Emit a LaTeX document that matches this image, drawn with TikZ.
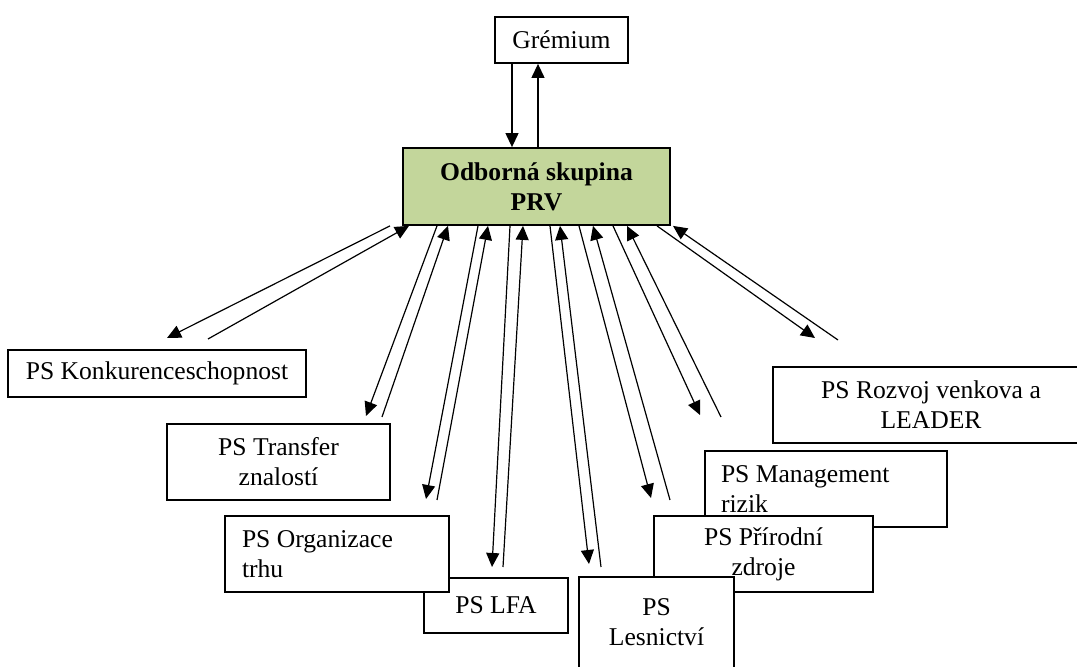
\documentclass[tikz,border=0pt]{standalone}
\usepackage{fontspec}
\setmainfont{Liberation Serif}
\usepackage{tikz}
\usetikzlibrary{arrows.meta}
\definecolor{prvgreen}{RGB}{195,214,155}

\begin{document}
\begin{tikzpicture}[x=0.5pt,y=-0.5pt,
  box/.style={draw, line width=0.9pt, fill=white, inner sep=0pt, align=center,
    font=\fontsize{12.8pt}{15pt}\selectfont},
  leftbox/.style={box, align=flush left, inner xsep=8.5pt},
  arr/.style={line width=0.6pt, -{Triangle[length=7pt,width=6.5pt]}}]
\useasboundingbox (0,0) rectangle (1077,667);
\clip (0,0) rectangle (1077,667);
% top
\node[box, minimum width=66.5pt, minimum height=23pt] (grem) at (561.5,40) {Grémium};
\node[box, fill=prvgreen, minimum width=133.5pt, minimum height=38.5pt,
  font=\fontsize{12.8pt}{15pt}\selectfont\bfseries] (odb) at (536.5,186.5) {Odborná skupina\\PRV};
\draw[arr] (512,0 |- grem.south) -- (512,0 |- odb.north);
\draw[arr] (538,0 |- odb.north) -- (538,0 |- grem.south);
% working groups
\node[box, minimum width=149pt, minimum height=23.5pt] (konk) at (157,373.5) {PS Konkurenceschopnost};
\node[box, minimum width=111.5pt, minimum height=38pt] (trans) at (278.5,462) {PS Transfer\\znalostí};
\node[box, minimum width=72pt, minimum height=27.5pt] (lfa) at (496,605.5) {PS LFA};
\node[leftbox, text width=95pt, minimum height=38pt] (org) at (337,554) {PS Organizace\\trhu};
\node[leftbox, text width=105pt, inner xsep=8pt, minimum height=38pt] (man) at (826,489) {PS Management\\rizik};
\node[box, minimum width=109.5pt, minimum height=38pt] (pri) at (763.5,554) {PS Přírodní\\zdroje};
\node[box, minimum width=77.5pt, minimum height=45.5pt] (les) at (656.5,622.5) {PS\\Lesnictví};
\node[box, minimum width=158pt, minimum height=38pt] (roz) at (931,405) {PS Rozvoj venkova a\\LEADER};
% arrow pairs: down start x / down tip / up tail / up tip x
\foreach \a/\b/\c/\d/\e/\f [count=\i] in {390/167/338/208/339/409,
  437/366/416/382/417/448, 478/426/499/437/500/488, 510/492/567/503/567/523,
  550/589/564/601/567/560, 579/651/498/670/500/593, 613/700/415/721/417/627,
  657/815/338/838/340/673}
{
\coordinate (end\i) at (\b,\c);
\coordinate (beg\i) at (\d,\e);
\draw[arr] (\a,0 |- odb.south) -- (end\i);
\draw[arr] (beg\i) -- (\f,0 |- odb.south);
}
\end{tikzpicture}
\end{document}
